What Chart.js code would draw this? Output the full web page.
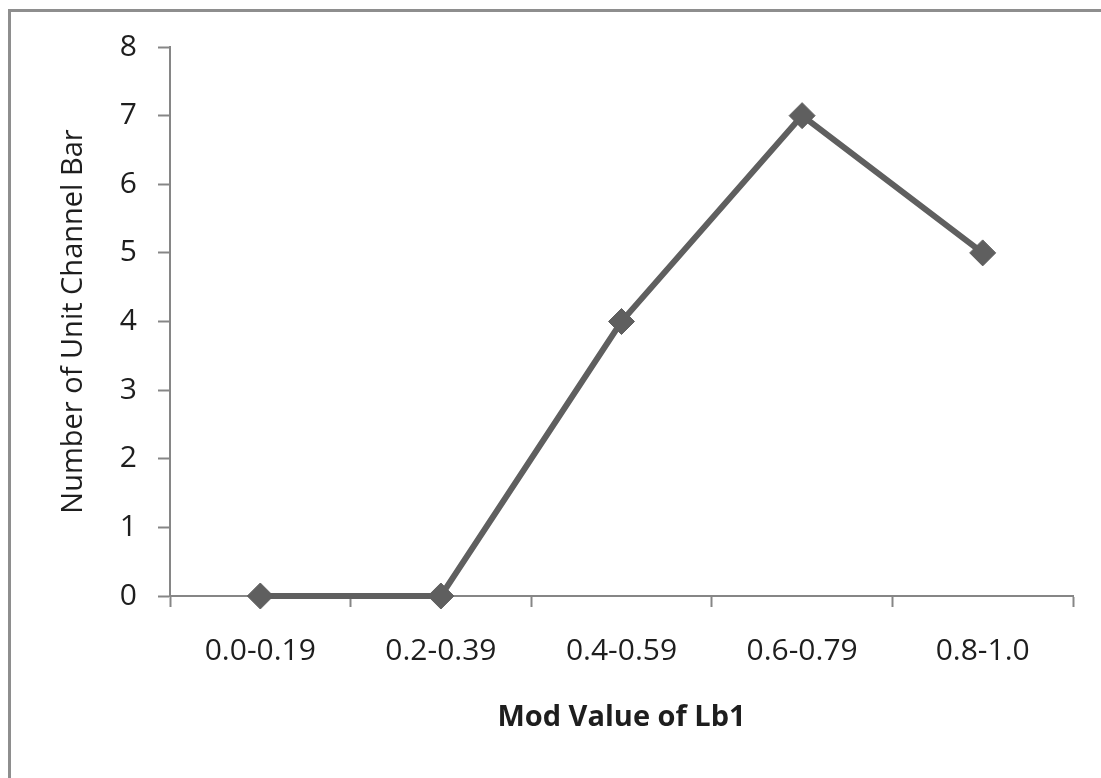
<!DOCTYPE html>
<html>
<head>
<meta charset="utf-8">
<script src="https://cdn.jsdelivr.net/npm/chart.js@4"></script>
<style>
  html, body { margin: 0; padding: 0; background: #fff; }
  #frame { position: absolute; left: 8px; top: 9px; width: 1300px; height: 1000px;
           border-left: 3px solid #8e8e8e; border-top: 3px solid #8e8e8e; }
  #wrap { position: absolute; left: 0; top: 0; width: 1101px; height: 778px; }
</style>
</head>
<body>
<div id="frame"></div>
<div id="wrap"><canvas id="c" width="1101" height="778"></canvas></div>
<script>
const categories = ["0.0-0.19", "0.2-0.39", "0.4-0.59", "0.6-0.79", "0.8-1.0"];
const unitChannelBars = [0, 0, 4, 7, 5];
const yTickValues = [0, 1, 2, 3, 4, 5, 6, 7, 8];
const xTitle = "Mod Value of Lb1";
const yTitle = "Number of Unit Channel Bar";

const axisColor = '#868686';
const textColor = '#1e1e1e';
const fontFamily = '"Open Sans", "Noto Sans", sans-serif';

new Chart(document.getElementById('c'), {
  type: 'line',
  data: {
    labels: categories,
    datasets: [{
      data: unitChannelBars,
      borderColor: '#5f5f5f',
      backgroundColor: '#5f5f5f',
      borderWidth: 6,
      pointStyle: 'rectRot',
      pointRadius: 13,
      pointHoverRadius: 13,
      pointBorderWidth: 1,
      pointBorderColor: '#5f5f5f',
      pointBackgroundColor: '#5f5f5f',
      tension: 0,
      clip: false
    }]
  },
  options: {
    responsive: false,
    animation: false,
    events: [],
    devicePixelRatio: 1,
    layout: { padding: { left: 0, top: 47, right: 28, bottom: 0 } },
    plugins: { legend: { display: false }, tooltip: { enabled: false } },
    scales: {
      x: {
        offset: true,
        grid: { offset: true, drawOnChartArea: false, drawTicks: true, tickLength: 11, tickWidth: 2, tickColor: axisColor },
        border: { color: axisColor, width: 2 },
        ticks: { color: textColor, font: { family: fontFamily, size: 30 }, padding: 26, maxRotation: 0, autoSkip: false },
        title: { display: true, text: xTitle, color: textColor, font: { family: fontFamily, size: 29, weight: 'bold' }, padding: { top: 0, bottom: 43 } },
        afterFit: (s) => { s.height = 182; }
      },
      y: {
        min: 0,
        max: 8,
        afterBuildTicks: (s) => { s.ticks = yTickValues.map(v => ({ value: v })); },
        grid: { drawOnChartArea: false, drawTicks: true, tickLength: 12, tickWidth: 2, tickColor: axisColor },
        border: { color: axisColor, width: 2 },
        ticks: { color: textColor, font: { family: fontFamily, size: 30 }, padding: 21 },
        title: { display: true, text: yTitle, color: textColor, font: { family: fontFamily, size: 29 }, padding: { top: 56, bottom: 0 } },
        afterFit: (s) => { s.width = 170; }
      }
    }
  }
});
</script>
</body>
</html>
